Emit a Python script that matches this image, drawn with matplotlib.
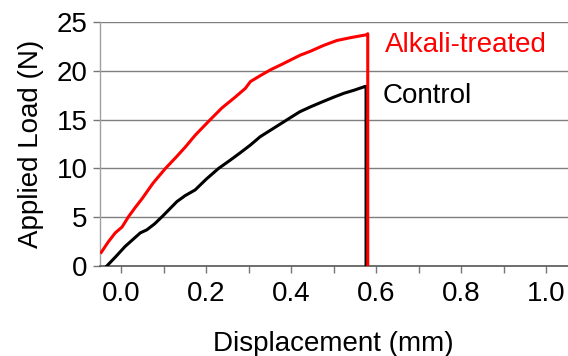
import matplotlib
matplotlib.use("Agg")
import matplotlib.pyplot as plt
from matplotlib.ticker import MultipleLocator

plt.rcParams['font.family'] = ['Liberation Sans', 'DejaVu Sans']

# Alkali-treated curve (displacement mm, load N)
alk_x = [-0.047, -0.030, -0.014, 0.002, 0.017, 0.033, 0.049, 0.075, 0.104, 0.128, 0.151, 0.174, 0.205, 0.237,
         0.268, 0.292, 0.304, 0.327, 0.351, 0.375, 0.398, 0.421, 0.445, 0.476, 0.507, 0.540, 0.578, 0.580, 0.580]
alk_y = [1.4, 2.5, 3.4, 4.0, 5.05, 6.0, 6.9, 8.5, 10.0, 11.1, 12.2, 13.4, 14.8, 16.2,
         17.3, 18.2, 18.9, 19.5, 20.1, 20.6, 21.1, 21.6, 22.0, 22.6, 23.1, 23.4, 23.7, 23.8, 0.0]

# Control curve
ctl_x = [-0.034, -0.012, 0.009, 0.027, 0.045, 0.06, 0.078, 0.096, 0.131, 0.150, 0.174, 0.200, 0.229, 0.255, 0.28, 0.304, 0.327,
         0.358, 0.398, 0.420, 0.445, 0.472, 0.5, 0.524, 0.547, 0.574, 0.576, 0.576]
ctl_y = [0.0, 1.0, 2.0, 2.7, 3.4, 3.7, 4.3, 5.05, 6.6, 7.2, 7.8, 8.9, 10.0, 10.8, 11.6, 12.4, 13.25,
         14.1, 15.2, 15.8, 16.3, 16.8, 17.3, 17.7, 18.0, 18.4, 18.4, 0.0]

series_labels = ["Alkali-treated", "Control"]
x_ticks = [0.0, 0.2, 0.4, 0.6, 0.8, 1.0]
y_ticks = [0, 5, 10, 15, 20, 25]

fig = plt.figure(figsize=(5.68, 3.56), dpi=100)
ax = fig.add_axes([100/568, 90/356, 467.5/568, 244/356])

for y in y_ticks[1:]:
    ax.axhline(y, color='#7f7f7f', lw=1.0, zorder=1)

ax.plot(ctl_x, ctl_y, color='black', lw=2.2, zorder=3)
ax.plot(alk_x, alk_y, color='#ff0000', lw=2.2, zorder=4)

ax.text(0.621, 22.6, series_labels[0], color='#ff0000', fontsize=20, va='center', ha='left')
ax.text(0.614, 17.4, series_labels[1], color='black', fontsize=20, va='center', ha='left')

ax.set_xlim(-0.05, 1.05)
ax.set_ylim(0, 25)
ax.set_xticks(x_ticks)
ax.set_xticklabels([f"{v:.1f}" for v in x_ticks])
ax.xaxis.set_minor_locator(MultipleLocator(0.1))
ax.set_yticks(y_ticks)

for s in ['top', 'right']:
    ax.spines[s].set_visible(False)
ax.spines['left'].set_color('#a0a0a0')
ax.spines['bottom'].set_color('#555555')
ax.spines['left'].set_linewidth(1.0)
ax.spines['bottom'].set_linewidth(1.2)

ax.tick_params(axis='both', which='both', direction='out', length=5, width=1,
               color='#777777', labelsize=20, pad=4)
ax.tick_params(axis='x', pad=6)

ax.set_xlabel("Displacement (mm)", fontsize=20, labelpad=17)
ax.set_ylabel("Applied Load (N)", fontsize=20, labelpad=9)

fig.savefig("out.png", dpi=100)
